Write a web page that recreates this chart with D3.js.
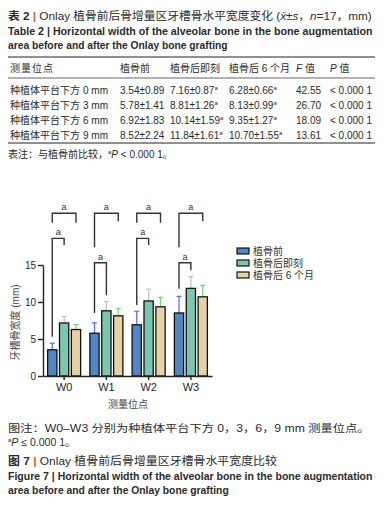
<!DOCTYPE html>
<html>
<head>
<meta charset="utf-8">
<script src="https://cdn.jsdelivr.net/npm/d3@7"></script>
<style>
body { margin: 0; background: #fff; }
svg { display: block; font-family: "Liberation Sans", "Noto Sans CJK SC", sans-serif; }
</style>
</head>
<body>
<div id="chart"></div>
<script>
const sites = ["W0", "W1", "W2", "W3"];
const rowLabels = ["种植体平台下方 0 mm", "种植体平台下方 3 mm", "种植体平台下方 6 mm", "种植体平台下方 9 mm"];
const seriesNames = ["植骨前", "植骨后即刻", "植骨后 6 个月"];
const before = [3.54, 5.78, 6.92, 8.52];
const beforeSd = [0.89, 1.41, 1.83, 2.24];
const immediate = [7.16, 8.81, 10.14, 11.84];
const immediateSd = [0.87, 1.26, 1.59, 1.61];
const sixMonth = [6.28, 8.13, 9.35, 10.70];
const sixMonthSd = [0.66, 0.99, 1.27, 1.55];
const fValues = ["42.55", "26.70", "18.09", "13.61"];
const pValues = ["< 0.000 1", "< 0.000 1", "< 0.000 1", "< 0.000 1"];
const yTicks = [0, 5, 10, 15];
// significance brackets (data units): level and where each leg stops
const upperLevel = [22.0, 22.0, 22.0, 22.0];
const upperLegs = [[20.7, 20.7], [17.4, 20.9], [20.7, 20.7], [17.4, 20.9]];
const lowerLevel = [18.6, 15.3, 18.6, 15.3];
const lowerLegs = [[5.3, 17.7], [8.5, 10.9], [9.6, 17.7], [11.8, 14.3]];

const series = [
    { name: seriesNames[0], values: before, sd: beforeSd, fill: "#4f86c6", err: "#6b6bf0" },
    { name: seriesNames[1], values: immediate, sd: immediateSd, fill: "#7cc7b2", err: "#c4c4c4" },
    { name: seriesNames[2], values: sixMonth, sd: sixMonthSd, fill: "#e6d3a3", err: "#7ad67a" }
];

const width = 386, height = 512;
const ink = "#2b2b2b";
const svg = d3.select('#chart').append('svg')
    .attr('width', width).attr('height', height);

// squeeze a text line horizontally so it spans w pixels
function fitLine(x, y, w, size, bold) {
    const t = svg.append('text').attr('font-size', size).attr('fill', ink)
        .attr('font-weight', bold ? 'bold' : null);
    t.fit = () => {
        const len = t.node().getComputedTextLength();
        t.attr('transform', `translate(${x},${y}) scale(${w / len},1)`);
        return t;
    };
    return t;
}

// ---- table caption
const t1 = fitLine(8, 20, 364, 11, false);
t1.append('tspan').attr('font-weight', 'bold').text('表 2 ');
t1.append('tspan').attr('fill', '#c0661c').attr('font-weight', 'bold').text('| ');
t1.append('tspan').text('Onlay 植骨前后骨增量区牙槽骨水平宽度变化  (');
t1.append('tspan').attr('font-style', 'italic').text('x̄');
t1.append('tspan').text('±');
t1.append('tspan').attr('font-style', 'italic').text('s');
t1.append('tspan').text('，');
t1.append('tspan').attr('font-style', 'italic').text('n');
t1.append('tspan').text('=17，mm)');
t1.fit();

fitLine(8, 35, 365, 11, true).text('Table 2  |  Horizontal width of the alveolar bone in the bone augmentation').fit();
fitLine(8, 49, 220, 11, true).text('area before and after the Onlay bone grafting').fit();

// ---- table
const cols = [10, 120, 170, 229, 296, 330];
svg.append('line').attr('x1', 8).attr('x2', 375).attr('y1', 57).attr('y2', 57).attr('stroke', '#222').attr('stroke-width', 1);
svg.append('line').attr('x1', 8).attr('x2', 375).attr('y1', 78).attr('y2', 78).attr('stroke', '#222').attr('stroke-width', 0.7);
svg.append('line').attr('x1', 8).attr('x2', 375).attr('y1', 143).attr('y2', 143).attr('stroke', '#222').attr('stroke-width', 1);

const header = svg.append('g').attr('font-size', 10).attr('fill', ink);
header.append('text').attr('x', cols[0]).attr('y', 72).attr('letter-spacing', 1).text('测量位点');
seriesNames.forEach((n, i) => header.append('text').attr('x', cols[i + 1]).attr('y', 72).text(n));
const fh = header.append('text').attr('x', cols[4]).attr('y', 72);
fh.append('tspan').attr('font-style', 'italic').text('F');
fh.append('tspan').text(' 值');
const ph = header.append('text').attr('x', cols[5]).attr('y', 72);
ph.append('tspan').attr('font-style', 'italic').text('P');
ph.append('tspan').text(' 值');

const rows = svg.append('g').attr('font-size', 10).attr('fill', ink)
    .selectAll('g').data(rowLabels).join('g')
    .attr('transform', (d, i) => `translate(0,${93.5 + i * 15})`);
rows.append('text').attr('x', cols[0]).attr('textLength', 98).attr('lengthAdjust', 'spacing').text(d => d);
series.forEach((s, k) => {
    const cell = rows.append('text').attr('x', cols[k + 1]);
    cell.append('tspan').text((d, i) => `${s.values[i].toFixed(2)}±${s.sd[i].toFixed(2)}`);
    if (k > 0) cell.append('tspan').attr('font-size', 6).attr('dy', -4).text('a');
});
rows.append('text').attr('x', cols[4]).text((d, i) => fValues[i]);
rows.append('text').attr('x', cols[5]).text((d, i) => pValues[i]);

const note = svg.append('text').attr('x', 8).attr('y', 158).attr('font-size', 10).attr('fill', ink);
note.append('tspan').text('表注：与植骨前比较，');
note.append('tspan').attr('font-size', 6).attr('dy', -4).text('a');
note.append('tspan').attr('font-style', 'italic').attr('dy', 4).text('P');
note.append('tspan').text(' < 0.000 1。');

// ---- bar chart
const y = d3.scaleLinear().domain([0, 15]).range([376, 265]);
const x0 = d3.scaleBand().domain(sites).range([43, 212]);
const x1 = d3.scaleBand().domain(seriesNames).range([-16.5, 16.5]).paddingInner(0.22);
const cx = (site, name) => x0(site) + x0.bandwidth() / 2 + x1(name) + x1.bandwidth() / 2;

const chart = svg.append('g');

// error bars (upper only)
series.forEach(s => {
    const eg = chart.append('g').attr('stroke', s.err).attr('stroke-width', 1.3);
    eg.selectAll('line.v').data(sites).join('line').attr('class', 'v')
        .attr('x1', d => cx(d, s.name)).attr('x2', d => cx(d, s.name))
        .attr('y1', (d, i) => y(s.values[i])).attr('y2', (d, i) => y(s.values[i] + s.sd[i]));
    eg.selectAll('line.c').data(sites).join('line').attr('class', 'c')
        .attr('x1', d => cx(d, s.name) - 2.5).attr('x2', d => cx(d, s.name) + 2.5)
        .attr('y1', (d, i) => y(s.values[i] + s.sd[i])).attr('y2', (d, i) => y(s.values[i] + s.sd[i]));
});

// bars
series.forEach(s => {
    chart.append('g').selectAll('rect').data(sites).join('rect')
        .attr('x', d => x0(d) + x0.bandwidth() / 2 + x1(s.name))
        .attr('width', x1.bandwidth())
        .attr('y', (d, i) => y(s.values[i]))
        .attr('height', (d, i) => y(0) - y(s.values[i]))
        .attr('fill', s.fill)
        .attr('stroke', '#111').attr('stroke-width', 1.3);
});

// axes
const yAxis = chart.append('g').attr('transform', 'translate(43,0)')
    .call(d3.axisLeft(y).tickValues(yTicks).tickSize(5).tickSizeOuter(0).tickPadding(2));
const xAxis = chart.append('g').attr('transform', `translate(0,${y(0)})`)
    .call(d3.axisBottom(x0).tickSize(4).tickSizeOuter(0).tickPadding(3));
[yAxis, xAxis].forEach(a => {
    a.selectAll('path, line').attr('stroke', '#222').attr('stroke-width', 1.4);
    a.selectAll('text').attr('font-size', 10).attr('fill', '#1e2430').attr('font-family', '"Liberation Sans", sans-serif');
});
xAxis.selectAll('text').attr('font-size', 11);

// significance brackets
const brackets = chart.append('g').attr('stroke', '#333').attr('stroke-width', 1.4).attr('fill', 'none');
const labels = chart.append('g').attr('font-size', 9).attr('fill', '#333').attr('text-anchor', 'middle');
sites.forEach((site, i) => {
    const xa = cx(site, seriesNames[0]);
    [[upperLevel[i], upperLegs[i], seriesNames[2]], [lowerLevel[i], lowerLegs[i], seriesNames[1]]].forEach(([lvl, legs, target]) => {
        const xb = cx(site, target);
        brackets.append('path')
            .attr('d', `M${xa},${y(legs[0])}V${y(lvl)}H${xb}V${y(legs[1])}`);
        labels.append('text').attr('x', (xa + xb) / 2).attr('y', y(lvl) - 3).text('a');
    });
});

// y label
svg.append('text').attr('transform', `translate(19,${(y(0) + y(15)) / 2 + 2}) rotate(-90)`)
    .attr('text-anchor', 'middle').attr('font-size', 10).attr('fill', '#444')
    .text('牙槽骨宽度 (mm)');
// x label
svg.append('text').attr('x', 128).attr('y', 408).attr('text-anchor', 'middle')
    .attr('font-size', 10).attr('fill', '#444').text('测量位点');

// legend
const legend = svg.append('g').attr('transform', 'translate(237,247)')
    .selectAll('g').data(series).join('g')
    .attr('transform', (d, i) => `translate(0,${i * 12})`);
legend.append('rect').attr('width', 12).attr('height', 6).attr('y', 1)
    .attr('fill', d => d.fill).attr('stroke', '#111').attr('stroke-width', 1.2);
legend.append('text').attr('x', 16).attr('y', 8).attr('font-size', 10).attr('fill', '#333').text(d => d.name);

// ---- figure caption
fitLine(8, 432, 362, 10.5, false).text('图注：W0–W3 分别为种植体平台下方 0，3，6，9 mm 测量位点。').fit();
const c2 = svg.append('text').attr('x', 8).attr('y', 446).attr('font-size', 10.5).attr('fill', ink);
c2.append('tspan').attr('font-size', 6).attr('dy', -4).text('a');
c2.append('tspan').attr('font-style', 'italic').attr('dy', 4).text('P');
c2.append('tspan').text(' ≤ 0.000 1。');
const c3 = fitLine(8, 465, 269, 11, false);
c3.append('tspan').attr('font-weight', 'bold').text('图 7 ');
c3.append('tspan').attr('fill', '#c0661c').attr('font-weight', 'bold').text('| ');
c3.append('tspan').text('Onlay 植骨前后骨增量区牙槽骨水平宽度比较');
c3.fit();
fitLine(8, 480, 365, 11, true).text('Figure 7  |  Horizontal width of the alveolar bone in the bone augmentation').fit();
fitLine(8, 494, 221, 11, true).text('area before and after the Onlay bone grafting').fit();
</script>
</body>
</html>
